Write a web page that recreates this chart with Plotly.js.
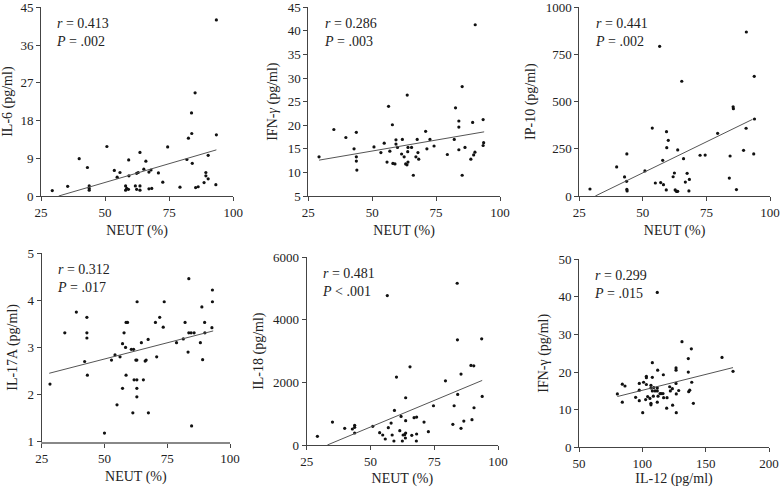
<!DOCTYPE html>
<html>
<head>
<meta charset="utf-8">
<script src="https://cdn.plot.ly/plotly-3.0.1.min.js"></script>
<style>html,body{margin:0;padding:0;background:#fff;}#chart{width:781px;height:487px;}</style>
</head>
<body>
<div id="chart"></div>
<script>
// Panel 1: NEUT vs IL-6
const neut1 = [29.4,35.4,39.9,43.1,43.8,43.8,43.8,50.7,53.6,54.7,55.8,58.0,58.0,58.4,59.2,59.3,59.1,61.8,62.3,62.9,62.3,63.6,63.6,63.6,65.1,65.9,67.1,67.9,67.1,68.2,70.8,72.5,74.4,79.2,81.9,82.5,83.7,83.8,84.0,85.1,85.3,86.3,88.6,89.3,89.3,90.2,90.2,93.4,93.4,93.2];
const il6   = [1.3,2.3,8.9,6.8,2.4,1.8,1.4,11.8,6.1,4.5,5.6,2.4,1.4,1.8,8.6,4.8,1.6,2.4,5.4,5.6,1.6,10.4,2.4,1.4,6.4,8.3,5.7,6.2,1.7,1.8,5.5,3.3,11.7,2.1,8.7,13.8,19.8,14.9,7.8,24.6,2.0,2.2,3.2,4.8,5.6,4.1,9.7,42,14.6,2.7];
const fit1X = [31.9, 93.4];
const fit1Y = [0, 11.0];

// Panel 2: NEUT vs IFN-gamma
const neut2 = [29.2,35.0,39.7,42.9,43.8,43.8,43.8,44.0,50.7,53.4,54.7,56.4,56.9,55.8,57.9,58.1,58.9,59.3,59.3,59.9,61.8,61.5,62.5,63.1,63.6,63.7,63.9,64.0,64.0,65.4,66.1,67.1,67.6,67.9,68.2,70.9,71.4,72.6,74.2,79.4,82.1,82.6,83.9,83.9,83.9,85.2,85.2,86.3,88.6,89.3,89.7,90.2,90.3,93.4,93.4,93.6];
const ifng2 = [13.3,19.1,17.4,15.0,18.5,13.3,12.4,10.5,15.4,14.2,16.2,24.0,14.5,12.2,20.1,11.9,11.8,16.9,16.0,15.3,17.0,13.9,13.3,11.8,11.6,26.4,14.4,15.3,12.2,15.3,9.4,13.3,17.0,14.2,12.8,18.7,15.0,17.0,15.6,13.8,17.0,23.7,20.9,19.6,14.8,28.2,9.4,15.3,12.8,20.6,13.7,14.3,41.3,21.2,15.7,16.3];
const fit2X = [29.2, 93.8];
const fit2Y = [12.6, 18.6];

// Panel 3: NEUT vs IP-10
const neut3 = [29.2,39.7,42.8,43.6,43.7,43.7,43.8,50.8,53.7,54.9,57.0,56.6,57.8,58.1,59.2,59.3,59.4,60.0,61.9,62.4,62.7,63.2,63.4,63.7,63.7,65.3,66.0,66.7,67.4,68.1,68.3,72.5,74.5,79.4,84.0,84.3,85.5,85.6,86.8,89.6,90.6,90.7,93.6,93.8,93.9];
const ip10  = [37,154,101,78,223,35,27,133,360,69,71,793,189,60,32,341,256,295,102,122,32,25,25,25,244,608,198,74,120,27,88,216,217,332,95,212,473,463,34,242,359,869,223,634,408];
const fit3X = [31.3, 93.1];
const fit3Y = [0, 406];

// Panel 4: NEUT vs IL-17A
const neut4 = [28.3,34.2,38.8,42.1,43.0,43.0,43.0,43.2,50.0,52.8,54.2,55.0,56.2,57.2,57.2,57.8,58.4,58.6,58.6,59.2,60.7,61.3,61.6,61.8,62.5,62.9,62.9,62.9,63.0,62.9,64.7,65.5,66.2,66.6,67.4,67.5,70.8,70.3,72.0,73.4,73.8,78.7,81.4,82.1,83.3,83.6,83.6,84.5,85.7,84.7,88.2,88.8,89.1,89.9,90.0,92.8,93.0,93.0];
const il17a = [2.22,3.31,3.75,2.70,3.64,3.31,3.20,2.41,1.18,2.73,2.84,1.78,2.80,3.08,2.13,3.31,3.00,2.41,3.53,3.53,2.96,1.61,2.96,2.31,2.73,2.73,2.31,2.13,3.97,1.95,3.10,2.31,2.71,2.73,3.17,1.61,2.80,3.53,3.64,3.43,3.97,3.10,3.18,3.53,2.90,4.46,3.31,3.31,3.31,1.33,3.10,3.86,2.74,3.53,3.31,3.42,3.97,4.22];
const fit4X = [28.0, 93.3];
const fit4Y = [2.45, 3.35];

// Panel 5: NEUT vs IL-18
const neut5 = [29.2,35.1,39.9,42.9,43.8,43.8,43.8,50.9,53.6,54.8,55.8,56.6,57.0,58.1,58.5,59.2,59.4,60.2,61.5,62.0,62.5,62.8,63.4,63.8,63.7,63.8,63.8,65.5,66.2,67.1,68.0,68.1,68.1,71.0,72.7,74.7,79.4,82.3,82.8,84.0,84.1,84.2,85.5,85.5,86.6,89.4,90.5,89.8,90.6,93.6,93.8];
const il18  = [277,734,532,511,628,564,383,596,394,319,191,4777,553,702,319,128,1106,2170,457,915,128,319,330,383,223,777,1511,2500,309,872,128,894,351,734,426,1255,2053,660,1255,5170,3362,1617,2266,532,766,2543,2532,809,1191,3394,1553];
const fit5X = [33.1, 93.8];
const fit5Y = [0, 2064];

// Panel 6: IL-12 vs IFN-gamma
const il12  = [80.3,84.2,84.2,86.3,94.7,97.6,97.6,97.6,100.3,101.0,102.6,103.2,103.2,103.2,104.2,106.0,106.8,106.8,106.8,106.8,107.9,107.9,107.9,108.7,109.0,110.0,111.8,112.1,111.8,111.8,112.4,111.8,114.0,114.8,116.6,116.3,116.8,119.2,119.5,121.6,122.1,123.7,123.9,126.6,126.6,126.6,126.8,126.8,128.7,131.3,136.3,136.3,136.6,137.4,138.7,139.0,140.3,162.9,171.6];
const ifng6 = [14.2,12.0,16.8,16.3,13.3,17.0,15.2,12.4,9.2,17.3,12.7,18.9,18.5,16.7,13.5,13.0,16.5,15.8,11.7,11.3,22.5,18.6,15.0,13.6,15.9,15.0,41.2,20.5,15.8,15.0,13.6,12.0,14.3,14.3,19.3,14.3,13.2,10.4,13.2,16.1,15.0,15.6,11.2,21.1,20.5,17.0,14.2,9.2,15.1,28.1,23.6,20.0,14.8,15.2,26.2,17.3,11.7,23.9,20.2];
const fit6X = [80.3, 171.6];
const fit6Y = [13.5, 21.2];

const xTitles = ['NEUT (%)','NEUT (%)','NEUT (%)','NEUT (%)','NEUT (%)','IL-12 (pg/ml)'];
const yTitles = ['IL-6 (pg/ml)','IFN-<i>γ</i> (pg/ml)','IP-10 (pg/ml)','IL-17A (pg/ml)','IL-18 (pg/ml)','IFN-γ (pg/ml)'];
const rVals = ['0.413','0.286','0.441','0.312','0.481','0.299'];
const pVals = ['= .002','= .003','= .002','= .017','< .001','= .015'];
const xTicks = [[25,50,75,100],[25,50,75,100],[25,50,75,100],[25,50,75,100],[25,50,75,100],[50,100,150,200]];
const yTicks = [[0,9,18,27,36,45],[5,10,15,20,25,30,35,40,45],[0,250,500,750,1000],[1,2,3,4,5],[0,2000,4000,6000],[0,10,20,30,40,50]];

const panels = [
  {x: neut1, y: il6, fx: fit1X, fy: fit1Y},
  {x: neut2, y: ifng2, fx: fit2X, fy: fit2Y},
  {x: neut3, y: ip10, fx: fit3X, fy: fit3Y},
  {x: neut4, y: il17a, fx: fit4X, fy: fit4Y},
  {x: neut5, y: il18, fx: fit5X, fy: fit5Y},
  {x: il12, y: ifng6, fx: fit6X, fy: fit6Y}
];

// layout geometry (pixels)
const W = 781, H = 487;
const boxes = [
  [41, 233.3, 7.3, 196],
  [308.3, 500, 7.3, 196],
  [579.3, 770, 7.3, 196],
  [41.7, 230, 253.3, 441.5],
  [306.7, 498, 257.3, 445],
  [579, 769, 259.3, 447.3]
];

const serif = 'Liberation Serif, Times New Roman, serif';
const traces = [];
const layout = {
  width: W, height: H,
  margin: {l: 0, r: 0, t: 0, b: 0},
  paper_bgcolor: '#ffffff', plot_bgcolor: '#ffffff',
  showlegend: false,
  font: {family: serif, color: '#222', size: 13},
  annotations: []
};

panels.forEach((p, i) => {
  const n = i + 1;
  const xa = n === 1 ? 'x' : 'x' + n;
  const ya = n === 1 ? 'y' : 'y' + n;
  traces.push({
    x: p.x, y: p.y, xaxis: xa, yaxis: ya, type: 'scatter', mode: 'markers',
    marker: {size: 3.2, color: '#111'}, cliponaxis: false, hoverinfo: 'skip'
  });
  traces.push({
    x: p.fx, y: p.fy, xaxis: xa, yaxis: ya, type: 'scatter', mode: 'lines',
    line: {color: '#555', width: 1}, hoverinfo: 'skip'
  });
  const b = boxes[i];
  const xt = xTicks[i], yt = yTicks[i];
  const axBase = {
    showline: true, linecolor: '#444', linewidth: 1, ticks: 'outside', ticklen: 4,
    tickcolor: '#444', tickwidth: 1, showgrid: false, zeroline: false,
    tickfont: {family: serif, size: 13, color: '#222'}, automargin: false, fixedrange: true,
    ticklabeloverflow: 'allow'
  };
  layout['xaxis' + (n === 1 ? '' : n)] = Object.assign({}, axBase, {
    domain: [b[0] / W, b[1] / W], anchor: ya,
    range: [xt[0], xt[xt.length - 1]], tickvals: xt, ticktext: xt.map(String),
    title: {text: xTitles[i], font: {family: serif, size: 14, color: '#222'}, standoff: 6}
  }, n === 4 ? {linecolor: '#888', linewidth: 2} : {});
  layout['yaxis' + (n === 1 ? '' : n)] = Object.assign({}, axBase, {
    domain: [1 - b[3] / H, 1 - b[2] / H], anchor: xa,
    range: [yt[0], yt[yt.length - 1]], tickvals: yt, ticktext: yt.map(String),
    title: {text: yTitles[i], font: {family: serif, size: 14, color: '#222'}, standoff: 6}
  });
  layout.annotations.push({
    xref: xa + ' domain', yref: ya + ' domain', x: 0.07, y: 0.965,
    xanchor: 'left', yanchor: 'top', align: 'left', showarrow: false,
    text: '<i>r</i> = ' + rVals[i] + '<br><i>P</i> ' + pVals[i],
    font: {family: serif, size: 14, color: '#222'}
  });
});

Plotly.newPlot('chart', traces, layout, {displayModeBar: false, staticPlot: true});
</script>
</body>
</html>
